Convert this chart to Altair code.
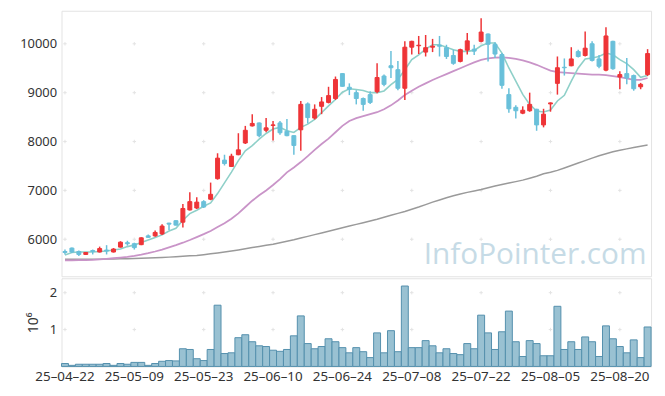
import altair as alt
import pandas as pd

dates = [
    "25-04-22", "25-04-23", "25-04-24", "25-04-25", "25-04-28", "25-04-29", "25-04-30", "25-05-02", "25-05-07", "25-05-08",
    "25-05-09", "25-05-12", "25-05-13", "25-05-14", "25-05-15", "25-05-16", "25-05-19", "25-05-20", "25-05-21", "25-05-22",
    "25-05-23", "25-05-26", "25-05-27", "25-05-28", "25-05-29", "25-05-30", "25-06-02", "25-06-04", "25-06-05", "25-06-09",
    "25-06-10", "25-06-11", "25-06-12", "25-06-13", "25-06-16", "25-06-17", "25-06-18", "25-06-19", "25-06-20", "25-06-23",
    "25-06-24", "25-06-25", "25-06-26", "25-06-27", "25-06-30", "25-07-01", "25-07-02", "25-07-03", "25-07-04", "25-07-07",
    "25-07-08", "25-07-09", "25-07-10", "25-07-11", "25-07-14", "25-07-15", "25-07-16", "25-07-17", "25-07-18", "25-07-21",
    "25-07-22", "25-07-23", "25-07-24", "25-07-25", "25-07-28", "25-07-29", "25-07-30", "25-07-31", "25-08-01", "25-08-04",
    "25-08-05", "25-08-06", "25-08-07", "25-08-08", "25-08-11", "25-08-12", "25-08-13", "25-08-14", "25-08-18", "25-08-19",
    "25-08-20", "25-08-21", "25-08-22", "25-08-25", "25-08-26",
]

opens = [5750, 5820, 5750, 5690, 5770, 5740, 5780, 5740, 5840, 5930,
         5910, 5890, 6070, 6070, 6110, 6330, 6380, 6350, 6600, 6640,
         6770, 6820, 7240, 7620, 7490, 7730, 7970, 8320, 8380, 8230,
         8330, 8380, 8210, 8120, 8240, 8770, 8480, 8720, 8800, 8880,
         9390, 9110, 9000, 8880, 8960, 9020, 9340, 9550, 9470, 9090,
         9930, 9960, 9830, 9930, 9970, 9920, 9760, 9640, 9870, 9890,
         10050, 10200, 9990, 9780, 8960, 8700, 8580, 8630, 8660, 8340,
         8770, 9190, 9520, 9550, 9840, 9760, 10000, 9690, 9460, 10050,
         9320, 9390, 9350, 9120, 9370]
highs = [5790, 5830, 5770, 5740, 5790, 5850, 5880, 5820, 5960, 5970,
         5930, 6040, 6100, 6180, 6310, 6340, 6390, 6720, 6960, 6860,
         6800, 7160, 7760, 7730, 7750, 8170, 8320, 8560, 8390, 8480,
         8420, 8420, 8460, 8130, 8830, 8800, 8760, 8910, 9120, 9330,
         9400, 9190, 9050, 8900, 9030, 9600, 9370, 9850, 9650, 10050,
         10060, 10160, 10180, 10100, 10160, 9980, 9880, 9900, 10220, 9980,
         10520, 10210, 10030, 9810, 9090, 8740, 8720, 9000, 8670, 8670,
         8800, 9740, 9700, 9930, 9880, 10250, 10050, 9770, 10340, 10060,
         9440, 9710, 9370, 9200, 9890]
lows = [5690, 5720, 5660, 5680, 5690, 5730, 5690, 5730, 5830, 5870,
        5790, 5880, 6030, 6050, 6090, 6190, 6280, 6240, 6590, 6620,
        6640, 6800, 7220, 7510, 7480, 7720, 7950, 8310, 8090, 8190,
        8020, 8140, 8110, 7730, 7810, 8370, 8450, 8560, 8780, 8850,
        9120, 8950, 8760, 8630, 8770, 8990, 9130, 9300, 9050, 8850,
        9780, 9790, 9740, 9830, 9740, 9690, 9570, 9620, 9780, 9770,
        10030, 9640, 9710, 9080, 8590, 8470, 8560, 8610, 8220, 8290,
        8610, 8960, 9350, 9540, 9720, 9740, 9640, 9500, 9440, 9470,
        9070, 9170, 9040, 9070, 9340]
closes = [5730, 5740, 5690, 5730, 5750, 5810, 5760, 5800, 5940, 5910,
          5830, 6030, 6040, 6140, 6270, 6310, 6290, 6630, 6770, 6760,
          6660, 6920, 7660, 7550, 7700, 7830, 8230, 8370, 8120, 8280,
          8340, 8180, 8120, 7920, 8760, 8490, 8660, 8810, 8940, 9270,
          9130, 9070, 8880, 8760, 8800, 9310, 9170, 9510, 9090, 9930,
          10050, 9970, 9920, 9950, 9950, 9740, 9600, 9880, 10060, 9850,
          10240, 9990, 9790, 9150, 8670, 8630, 8640, 8760, 8340, 8560,
          8790, 9510, 9510, 9690, 9740, 9910, 9660, 9540, 10160, 9490,
          9370, 9300, 9080, 9170, 9800]

ma5 = [5680, 5730, 5740, 5740, 5740, 5750, 5760, 5780, 5800, 5850,
       5885, 5935, 5985, 6035, 6090, 6170, 6225, 6390, 6525, 6595,
       6675, 6745, 6935, 7155, 7375, 7610, 7810, 7915, 8050, 8165,
       8255, 8290, 8220, 8185, 8290, 8355, 8455, 8590, 8730, 8860,
       9010, 9080, 9065, 9045, 9000, 9000, 9035, 9165, 9270, 9470,
       9675, 9775, 9890, 9980, 9980, 9930, 9880, 9845, 9845, 9865,
       9960, 10015, 10015, 9810, 9505, 9235, 8965, 8760, 8625, 8605,
       8645, 8830, 8945, 9235, 9505, 9690, 9710, 9740, 9810, 9775,
       9675, 9595, 9470, 9315, 9350]
ma20 = [5570, 5570, 5572, 5575, 5580, 5590, 5600, 5612, 5625, 5640,
        5660, 5685, 5715, 5750, 5790, 5835, 5880, 5930, 5985, 6045,
        6105, 6170, 6250, 6330, 6420, 6530, 6660, 6790, 6900, 7000,
        7110, 7230, 7370, 7470, 7580, 7700, 7830, 7950, 8060, 8190,
        8320, 8420, 8480, 8520, 8560, 8600, 8660, 8740, 8840, 8950,
        9040, 9120, 9190, 9260, 9320, 9380, 9440, 9500, 9560, 9620,
        9670, 9700, 9715, 9720, 9710, 9690, 9660, 9620, 9570, 9510,
        9450, 9420, 9410, 9400, 9390, 9380, 9370, 9370, 9360, 9340,
        9320, 9290, 9260, 9260, 9300]
ma120 = [5590, 5590, 5591, 5592, 5593, 5594, 5596, 5598, 5600, 5603,
         5606, 5610, 5615, 5620, 5627, 5635, 5643, 5652, 5661, 5670,
         5685, 5702, 5720, 5740, 5761, 5783, 5806, 5830, 5853, 5877,
         5900, 5930, 5960, 5990, 6025, 6060, 6095, 6130, 6165, 6200,
         6235, 6270, 6305, 6340, 6375, 6410, 6450, 6490, 6530, 6570,
         6615, 6660, 6710, 6760, 6805, 6850, 6890, 6925, 6960, 6990,
         7020, 7055, 7090, 7120, 7150, 7180, 7210, 7250, 7290, 7340,
         7370, 7410, 7460, 7510, 7560, 7610, 7660, 7710, 7750, 7790,
         7820, 7850, 7880, 7905, 7930]

volumes_m = [0.08, 0.03, 0.06, 0.06, 0.06, 0.06, 0.08, 0.03, 0.08, 0.06,
             0.11, 0.11, 0.03, 0.08, 0.14, 0.16, 0.15, 0.48, 0.46, 0.21,
             0.16, 0.46, 1.66, 0.35, 0.37, 0.78, 0.86, 0.67, 0.56, 0.54,
             0.44, 0.41, 0.46, 0.83, 1.37, 0.62, 0.48, 0.54, 0.75, 0.67,
             0.51, 0.37, 0.51, 0.40, 0.24, 0.91, 0.37, 0.97, 0.40, 2.18,
             0.51, 0.51, 0.70, 0.56, 0.37, 0.48, 0.35, 0.32, 0.62, 0.48,
             1.39, 0.91, 0.46, 0.94, 1.50, 0.67, 0.27, 0.70, 0.62, 0.29,
             0.29, 1.63, 0.46, 0.67, 0.46, 0.80, 0.67, 0.27, 1.10, 0.75,
             0.54, 0.37, 0.72, 0.24, 1.07]

tick_dates = dates[::10]
price_ticks = [6000, 7000, 8000, 9000, 10000]
volume_ticks = [1000000, 2000000]
watermark = ["InfoPointer.com"]

df = pd.DataFrame({
    "date": dates, "open": opens, "high": highs, "low": lows, "close": closes,
    "ma5": ma5, "ma20": ma20, "ma120": ma120,
    "volume": [v * 1e6 for v in volumes_m],
})

FONT = "Noto Sans"
LABEL_COLOR = "#333333"
RED = "#ee3437"
BLUE = "#69c0da"

x_scale = alt.Scale(domain=dates, paddingInner=0, paddingOuter=0)
x_price = alt.X("date:O", scale=x_scale, axis=None)
y_price_scale = alt.Scale(domain=[5243, 10676], nice=False, zero=False)
price_axis = alt.Axis(values=price_ticks, format="d", labelFontSize=13, labelColor=LABEL_COLOR, ticks=False,
                      domain=False, grid=False, labelPadding=5, title=None, labelFont=FONT, minExtent=42)

candle_color = alt.when(alt.datum.close >= alt.datum.open).then(alt.value(RED)).otherwise(alt.value(BLUE))

grid_price = pd.DataFrame([(d, p) for d in tick_dates for p in price_ticks], columns=["date", "y"])
cross_shape = "M-1,0H1M0,-1V1"
crosses_p = alt.Chart(grid_price).mark_point(shape=cross_shape, filled=False, stroke="#d9d9d9",
                                              strokeWidth=1, size=12).encode(
    x=x_price, y=alt.Y("y:Q", scale=y_price_scale, axis=price_axis))

wm = alt.Chart(pd.DataFrame({"t": watermark})).mark_text(
    font="Open Sans", fontSize=30, color="#c6dbe6", align="center", baseline="alphabetic").encode(
    text="t:N", x=alt.value(478), y=alt.value(256))

line5 = alt.Chart(df).mark_line(color="#8fd0c9", strokeWidth=1.6).encode(
    x=x_price, y=alt.Y("ma5:Q", scale=y_price_scale))
line20 = alt.Chart(df).mark_line(color="#c994c8", strokeWidth=1.8).encode(
    x=x_price, y=alt.Y("ma20:Q", scale=y_price_scale))
line120 = alt.Chart(df).mark_line(color="#9a9a9a", strokeWidth=1.5).encode(
    x=x_price, y=alt.Y("ma120:Q", scale=y_price_scale))

wick = alt.Chart(df).mark_rule(strokeWidth=1.5).encode(
    x=x_price, y=alt.Y("low:Q", scale=y_price_scale), y2="high:Q", color=candle_color)
body = alt.Chart(df).mark_bar(size=4, strokeWidth=1).encode(
    x=x_price, y=alt.Y("open:Q", scale=y_price_scale), y2="close:Q",
    color=candle_color, stroke=candle_color)

price = alt.layer(crosses_p, wm, line120, line20, line5, wick, body).properties(width=595, height=268)

y_vol_scale = alt.Scale(domain=[0, 2390000], nice=False, zero=True)
vol_axis = alt.Axis(values=volume_ticks, labelExpr="datum.value / 1000000", labelFontSize=13,
                    labelColor=LABEL_COLOR, ticks=False, domain=False, grid=False, labelPadding=5,
                    title="10⁶", titleFontSize=14, titleFontWeight="normal", titleColor=LABEL_COLOR,
                    titleFont=FONT, titlePadding=9, labelFont=FONT)
x_vol = alt.X("date:O", scale=x_scale,
              axis=alt.Axis(values=tick_dates, labelAngle=0, labelFontSize=13.5, labelColor=LABEL_COLOR,
                            labelExpr="replace(datum.label, /-/g, '–')",
                            ticks=False, domain=False, grid=False, labelPadding=3, title=None,
                            labelFont=FONT))

grid_vol = pd.DataFrame([(d, v) for d in tick_dates for v in volume_ticks], columns=["date", "y"])
crosses_v = alt.Chart(grid_vol).mark_point(shape=cross_shape, filled=False, stroke="#d9d9d9",
                                            strokeWidth=1, size=12).encode(
    x=x_vol, y=alt.Y("y:Q", scale=y_vol_scale, axis=vol_axis))
bars = alt.Chart(df).mark_bar(fill="#99c1d2", stroke="#5490ad", strokeWidth=1).encode(
    x=x_vol, y=alt.Y("volume:Q", scale=y_vol_scale))

volume = alt.layer(crosses_v, bars).properties(width=595, height=89)

chart = alt.vconcat(price, volume, spacing=0).properties(
    padding={"left": 11, "top": 0, "right": 5, "bottom": 5}
).configure_view(stroke="#e3e3e3")

chart.save("out.html", embed_options={"renderer": "svg", "actions": False})
